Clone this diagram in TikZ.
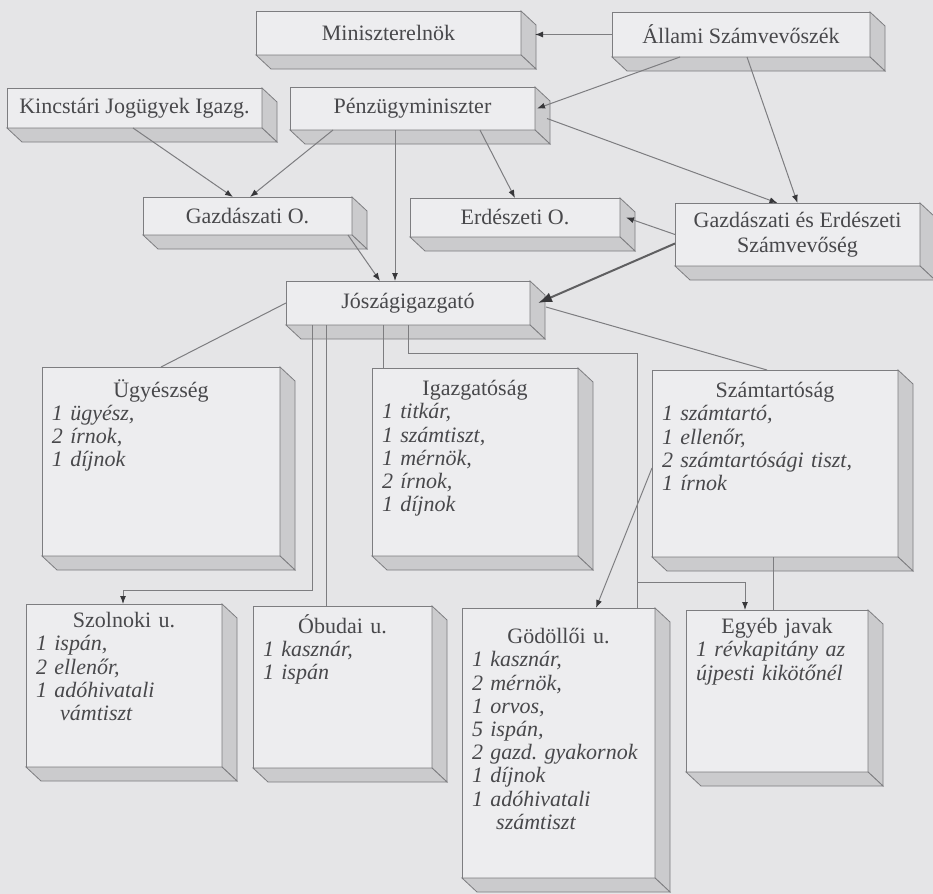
\documentclass[tikz,border=0pt]{standalone}
\usepackage{fontspec}
\setmainfont{Liberation Serif}
\usepackage{tikz}
\usetikzlibrary{arrows.meta,positioning}

\definecolor{paper}{RGB}{229,229,231}
\definecolor{front}{RGB}{237,237,239}
\definecolor{side}{RGB}{203,203,205}
\definecolor{edge}{RGB}{125,125,128}
\definecolor{ink}{RGB}{72,72,75}
\definecolor{dark}{RGB}{55,55,58}

\tikzset{
	unit/.style={draw=edge, fill=front, rectangle, inner sep=0pt, outer sep=0pt, anchor=north west, text=ink, align=center, font=\fontsize{11}{12.5}\selectfont},
	staff/.style={anchor=north, text width=#1, align=left, inner sep=0pt, yshift=-6pt, text=ink, font=\fontsize{11}{11.6}\selectfont},
	face/.style={draw=edge, fill=side, line width=0.4pt},
	link/.style={draw=edge, line width=0.5pt},
	tip/.style={-{Latex[length=4pt,width=3pt,color=dark]}},
	bigtip/.style={draw=dark!80, line width=1pt, -{Latex[length=7pt,width=5pt,color=dark]}},
}

\newcommand{\ttl}[1]{\makebox[\hsize]{#1}\\}

\begin{document}
\begin{tikzpicture}[x=0.5pt, y=-0.5pt]

	\useasboundingbox (0,0) rectangle (933,894);
	\fill[paper] (0,0) rectangle (933,894);

	\node[unit, minimum width=132.5pt, minimum height=22pt] (mini) at (256,11) {Miniszterelnök};
	\node[unit, minimum width=129pt, minimum height=22.5pt] (allami) at (612,12) {Állami Számvevőszék};
	\node[unit, minimum width=127.5pt, minimum height=20pt] (kincs) at (7,88) {Kincstári Jogügyek Igazg.};
	\node[unit, minimum width=122.5pt, minimum height=21.5pt] (penz) at (290,87) {Pénzügyminiszter};
	\node[unit, minimum width=104.5pt, minimum height=19pt] (gazd) at (143,197) {Gazdászati O.};
	\node[unit, minimum width=105pt, minimum height=19.5pt] (erd) at (410,198) {Erdészeti O.};
	\node[unit, minimum width=122.5pt, minimum height=31.5pt] (gesz) at (675,203) {Gazdászati és Erdészeti\\Számvevőség};
	\node[unit, minimum width=122pt, minimum height=22pt] (josz) at (286,281) {Jószágigazgató};

	\node[unit, minimum width=119pt, minimum height=94.5pt,
		label={[staff=109pt]north:{\ttl{Ügyészség}\textit{1 ügyész,}\\\textit{2 írnok,}\\\textit{1 díjnok}}}] (ugy) at (42,367) {};
	\node[unit, minimum width=103pt, minimum height=94pt,
		label={[staff=93pt]north:{\ttl{Igazgatóság}\textit{1 titkár,}\\\textit{1 számtiszt,}\\\textit{1 mérnök,}\\\textit{2 írnok,}\\\textit{1 díjnok}}}] (igaz) at (372,368) {};
	\node[unit, minimum width=123pt, minimum height=93.5pt,
		label={[staff=113pt]north:{\ttl{Számtartóság}\textit{1 számtartó,}\\\textit{1 ellenőr,}\\\textit{2 számtartósági tiszt,}\\\textit{1 írnok}}}] (szamt) at (652,370) {};

	\node[unit, minimum width=98pt, minimum height=81.5pt,
		label={[staff=88pt, yshift=2pt]north:{\ttl{Szolnoki u.}\textit{1 ispán,}\\\textit{2 ellenőr,}\\\textit{1 adóhivatali}\\\hspace*{1.1em}\textit{vámtiszt}}}] (szol) at (26,604) {};
	\node[unit, minimum width=89.5pt, minimum height=81pt,
		label={[staff=79.5pt, yshift=2pt]north:{\ttl{Óbudai u.}\textit{1 kasznár,}\\\textit{1 ispán}}}] (obu) at (253,606) {};
	\node[unit, minimum width=96.5pt, minimum height=135pt,
		label={[staff=86.5pt, yshift=-4pt]north:{\ttl{Gödöllői u.}\textit{1 kasznár,}\\\textit{2 mérnök,}\\\textit{1 orvos,}\\\textit{5 ispán,}\\\textit{2 gazd.\ gyakornok}\\\textit{1 díjnok}\\\textit{1 adóhivatali}\\\hspace*{1.1em}\textit{számtiszt}}}] (god) at (462,608) {};
	\node[unit, minimum width=91pt, minimum height=81pt,
		label={[staff=81pt, yshift=2pt]north:{\ttl{Egyéb javak}\textit{1 révkapitány az}\\\textit{újpesti kikötőnél}}}] (egy) at (686,610) {};

	\foreach \b in {mini,allami,kincs,penz,gazd,erd,gesz,josz,ugy,igaz,szamt,szol,obu,god,egy} {
		\filldraw[face] (\b.north east) -- ++(15,14) -- ([shift={(15,14)}]\b.south east) -- (\b.south east) -- cycle;
		\filldraw[face] (\b.south west) -- (\b.south east) -- ([shift={(15,14)}]\b.south east) -- ([shift={(15,14)}]\b.south west) -- cycle;
	}

	\draw[link, tip] (allami.west) -- ([xshift=7pt]mini.east |- allami.west);
	\draw[link, tip] ([xshift=34pt]allami.south west) -- ([xshift=1pt]penz.east);
	\draw[link, tip] ([xshift=67.5pt]allami.south west) -- (gesz.north);
	\draw[link, tip] ([xshift=6pt,yshift=-5pt]penz.east) -- ([xshift=-10pt]gesz.north);
	\draw[link, tip] ([xshift=95pt]penz.south west) -- (erd.north);
	\draw[link, tip] ([xshift=21.5pt]penz.south west) -- ([xshift=53.5pt]gazd.north west);
	\draw[link, tip] ([xshift=63pt]kincs.south west) -- ([xshift=45pt]gazd.north west);
	\draw[link, tip] ([xshift=52.5pt]penz.south west) -- ([xshift=54.5pt]josz.north west);
	\draw[link, tip] ([xshift=-2pt]gazd.south east) -- ([xshift=47pt]josz.north west);
	\draw[link, tip] (gesz.west) -- ([xshift=3pt]erd.east);
	\draw[link, bigtip] ([yshift=-4.5pt]gesz.west) -- ([xshift=4pt]josz.east);

	\draw[link] ([xshift=8pt,yshift=-2pt]josz.east) -- ([xshift=57.5pt]szamt.north west);
	\draw[link] (josz.west) -- (ugy.north);
	\draw[link] ([xshift=48.5pt]josz.south west) -- ([xshift=48.5pt]josz.south west |- igaz.north);
	\draw[link, tip] ([xshift=13pt]josz.south west) -- ++(0,265) -| ([xshift=48.5pt]szol.north west);
	\draw[link] ([xshift=20pt]josz.south west) -- ([xshift=20pt]josz.south west |- obu.north);

	\coordinate (godtop) at ([xshift=87.5pt]god.north west);
	\draw[link] ([xshift=61pt]josz.south west) -- ++(0,28) -| (godtop);
	\draw[link, tip] ([yshift=13pt]godtop) -| ([xshift=29.5pt]egy.north west);
	\draw[link] ([xshift=60.5pt]szamt.south west) -- ([xshift=60.5pt]szamt.south west |- egy.north);
	\draw[link, tip] ([yshift=-49pt]szamt.north west) -- ([xshift=67pt]god.north west);

\end{tikzpicture}
\end{document}
